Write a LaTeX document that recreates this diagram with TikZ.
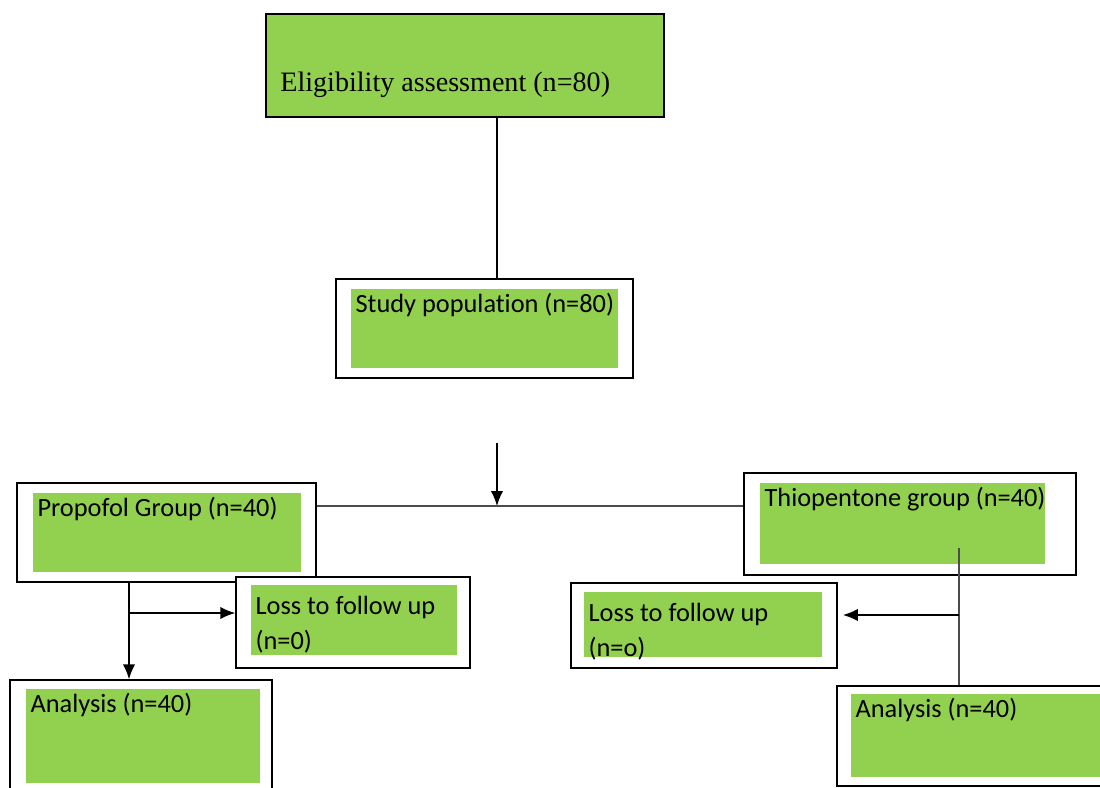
\documentclass[tikz,border=0pt]{standalone}
\usepackage{fontspec}
\setmainfont{Carlito}[Ligatures=NoCommon]
\newfontfamily\serifel{Liberation Serif}
\usepackage{xcolor}
\usepackage{tikz}
\usetikzlibrary{positioning, arrows.meta}

\definecolor{boxgreen}{HTML}{92D050}

\begin{document}
\begin{tikzpicture}[>={Latex[length=8.5pt, width=7pt]}, x=0.02cm, y=-0.02cm,
    outer/.style={draw, fill=white, line width=0.8pt, inner sep=0pt},
    inner/.style={fill=boxgreen, inner sep=0pt},
    txt/.style={inner sep=2.6pt, align=left, font=\fontsize{15}{19.5}\selectfont},
    link/.style={line width=0.8pt},
    glink/.style={line width=1pt, black!70}]
    % cadre de l'image
    \useasboundingbox (0,0) rectangle (1100,788);
    \clip (0,0) rectangle (1100,788);

    % 1. Boîte du haut
    \node[outer, fill=boxgreen, minimum width=7.96cm, minimum height=2.06cm] (elig) at (465,65.5) {};
    \node[anchor=west, inner sep=0pt, font=\serifel\fontsize{16}{19}\selectfont] (eligtxt) at (280,85) {Eligibility assessment (n=80)};

    % 2. Population étudiée
    \node[outer, minimum width=5.94cm, minimum height=1.98cm] (study) at (484.5,328.5) {};
    \node[inner, minimum width=5.34cm, minimum height=1.58cm] (studyin) at (484.5,328.5) {};
    \node[txt, below right=0pt of studyin.north west] (studytxt) {Study population (n=80)};

    % 3. Les deux groupes
    \node[outer, minimum width=5.98cm, minimum height=1.98cm] (prop) at (166.5,532.5) {};
    \node[inner, minimum width=5.36cm, minimum height=1.58cm] (propin) at (167,532.5) {};
    \node[txt, below right=0pt of propin.north west] (proptxt) {Propofol Group (n=40)};

    \node[outer, minimum width=6.64cm, minimum height=2.04cm] (thio) at (910,524) {};
    \node[inner, minimum width=5.70cm, minimum height=1.62cm] (thioin) at (902.5,523.5) {};
    \node[txt, below right=0pt of thioin.north west] (thiotxt) {Thiopentone group (n=40)};

    % 4. Perdus de vue
    \node[outer, minimum width=4.68cm, minimum height=1.82cm] (lossl) at (353,622.5) {};
    \node[inner, minimum width=4.12cm, minimum height=1.40cm] (losslin) at (354,620) {};
    \node[txt, below right=0pt of losslin.north west, yshift=-4pt] (lossltxt) {Loss to follow up\\(n=0)};

    \node[outer, minimum width=5.32cm, minimum height=1.70cm] (lossr) at (704,625.5) {};
    \node[inner, minimum width=4.76cm, minimum height=1.30cm] (lossrin) at (703,624.5) {};
    \node[txt, below right=0pt of lossrin.north west, yshift=-4pt] (lossrtxt) {Loss to follow up\\(n=o)};

    % 5. Analyse
    \node[outer, minimum width=5.24cm, minimum height=2.40cm] (anal) at (141,740) {};
    \node[inner, minimum width=4.68cm, minimum height=1.88cm] (analin) at (143,736) {};
    \node[txt, below right=0pt of analin.north west] (analtxt) {Analysis (n=40)};

    \node[outer, minimum width=5.46cm, minimum height=2.00cm] (anar) at (973.5,736) {};
    \node[inner, minimum width=5.18cm, minimum height=1.66cm] (anarin) at (980.5,735.5) {};
    \node[txt, below right=0pt of anarin.north west] (anartxt) {Analysis (n=40)};

    % 6. Liaisons
    \coordinate (mid) at (497,0);
    \coordinate (arrtop) at (497,443);
    \coordinate (split) at (497,506);
    \coordinate (lx) at (129,613);
    \coordinate (rtop) at (959,548);
    \coordinate (rx) at (959,615);

    \draw[link] (elig.south -| mid) -- (study.north -| mid);
    \draw[link, ->] (arrtop) -- (split);
    \draw[glink] (prop.east |- split) -- (thio.west |- split);

    \draw[link, ->] (prop.south -| lx) -- (anal.north -| lx);
    \draw[glink, ->, black] (lx) -- (lossl.west |- lx);

    \draw[glink] (rtop) -- (anar.north -| rtop);
    \draw[link, ->] (rx) -- ([xshift=3]lossr.east |- rx);
\end{tikzpicture}
\end{document}
